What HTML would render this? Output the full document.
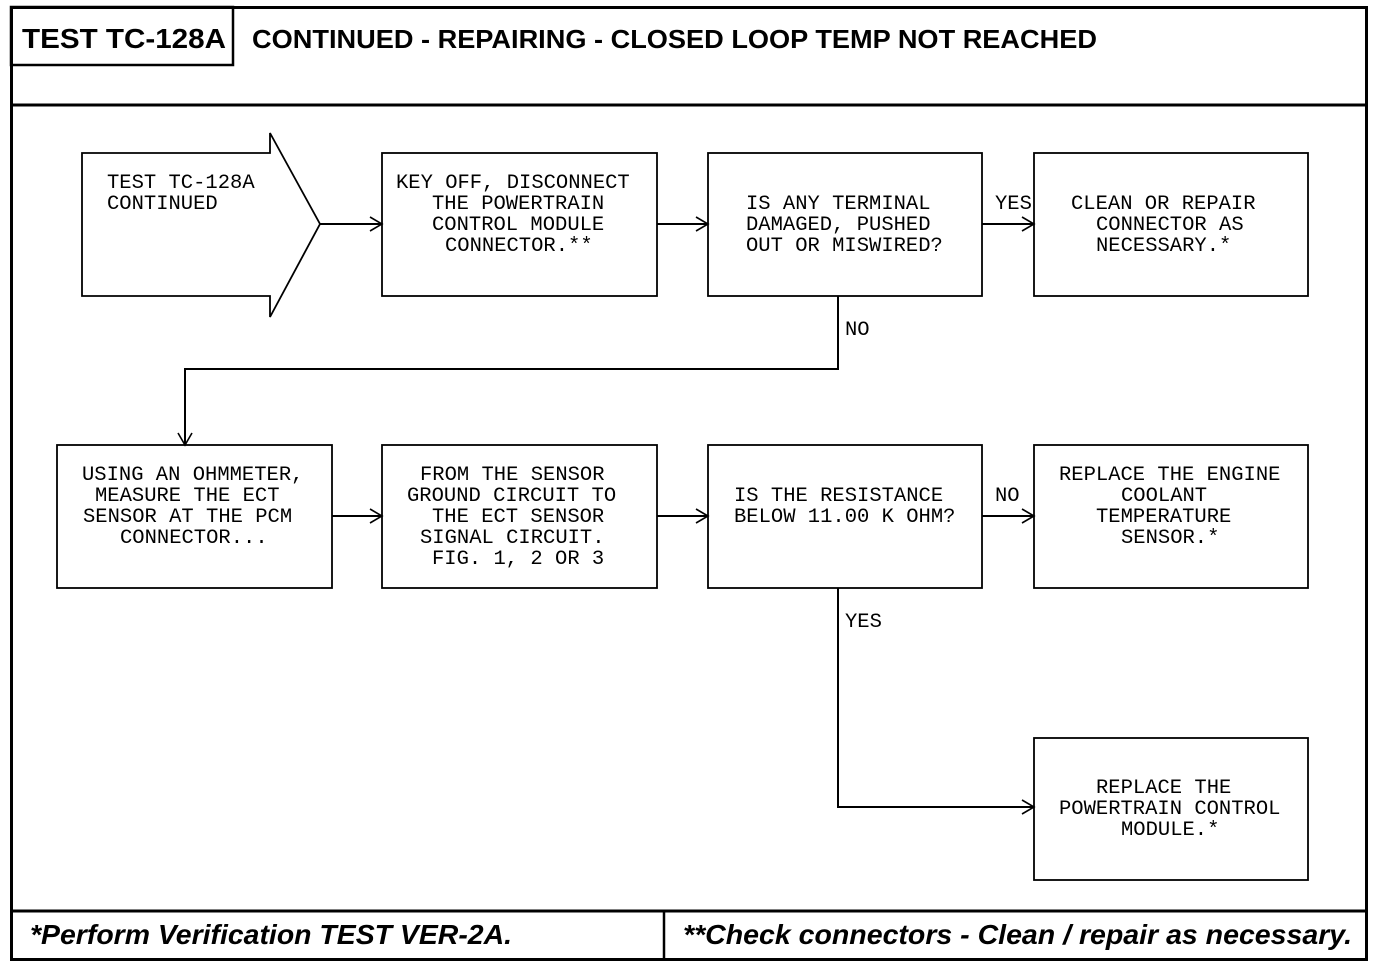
<!DOCTYPE html>
<html><head><meta charset="utf-8"><style>
html,body{margin:0;padding:0;background:#fff;}
svg{display:block;}
.m{font-family:"Liberation Mono",monospace;font-size:20.5px;fill:#000;}
.h{font-family:"Liberation Sans",sans-serif;font-weight:bold;fill:#000;}
</style></head><body>
<svg width="1392" height="970" viewBox="0 0 1392 970" xmlns="http://www.w3.org/2000/svg">
<g fill="none" stroke="#000">
<!-- outer frame -->
<rect x="11.5" y="7.5" width="1355" height="952" stroke-width="3"/>
<line x1="11" y1="105" x2="1367" y2="105" stroke-width="3"/>
<rect x="11" y="7" width="222" height="58" stroke-width="2.5"/>
<line x1="11" y1="911" x2="1367" y2="911" stroke-width="3"/>
<line x1="664" y1="911" x2="664" y2="960" stroke-width="2.5"/>
<!-- arrow shape -->
<polygon points="82,153 270,153 270,133 320,224 270,317 270,296 82,296" stroke-width="1.8"/>
<!-- boxes -->
<g stroke-width="1.8">
<rect x="382" y="153" width="275" height="143"/>
<rect x="708" y="153" width="274" height="143"/>
<rect x="1034" y="153" width="274" height="143"/>
<rect x="57" y="445" width="275" height="143"/>
<rect x="382" y="445" width="275" height="143"/>
<rect x="708" y="445" width="274" height="143"/>
<rect x="1034" y="445" width="274" height="143"/>
<rect x="1034" y="738" width="274" height="142"/>
</g>
<!-- connectors -->
<g stroke-width="2">
<line x1="320" y1="224" x2="382" y2="224"/>
<line x1="657" y1="224" x2="708" y2="224"/>
<line x1="982" y1="224" x2="1034" y2="224"/>
<polyline points="838,296 838,369 185,369 185,445"/>
<line x1="332" y1="516" x2="382" y2="516"/>
<line x1="657" y1="516" x2="708" y2="516"/>
<line x1="982" y1="516" x2="1034" y2="516"/>
<polyline points="838,588 838,807 1034,807"/>
</g>
<!-- arrowheads -->
<g stroke-width="1.6">
<polyline points="370,217 382,224 370,231"/>
<polyline points="696,217 708,224 696,231"/>
<polyline points="1022,217 1034,224 1022,231"/>
<polyline points="178,433 185,445 192,433"/>
<polyline points="370,509 382,516 370,523"/>
<polyline points="696,509 708,516 696,523"/>
<polyline points="1022,509 1034,516 1022,523"/>
<polyline points="1022,800 1034,807 1022,814"/>
</g>
</g>
<!-- header -->
<text class="h" x="22" y="48" font-size="28" textLength="204" lengthAdjust="spacingAndGlyphs">TEST TC-128A</text>
<text class="h" x="252" y="48" font-size="26" textLength="845" lengthAdjust="spacingAndGlyphs">CONTINUED - REPAIRING - CLOSED LOOP TEMP NOT REACHED</text>
<!-- footer -->
<text class="h" x="30" y="944" font-size="28" font-style="italic" textLength="482" lengthAdjust="spacingAndGlyphs">*Perform Verification TEST VER-2A.</text>
<text class="h" x="683" y="944" font-size="28" font-style="italic" textLength="669" lengthAdjust="spacingAndGlyphs">**Check connectors - Clean / repair as necessary.</text>
<!-- box text -->
<g class="m">
<text x="107" y="188">TEST TC-128A</text>
<text x="107" y="209">CONTINUED</text>

<text x="396" y="188">KEY OFF, DISCONNECT</text>
<text x="432" y="209">THE POWERTRAIN</text>
<text x="432" y="230">CONTROL MODULE</text>
<text x="445" y="251">CONNECTOR.**</text>

<text x="746" y="209">IS ANY TERMINAL</text>
<text x="746" y="230">DAMAGED, PUSHED</text>
<text x="746" y="251">OUT OR MISWIRED?</text>

<text x="995" y="209">YES</text>

<text x="1071" y="209">CLEAN OR REPAIR</text>
<text x="1096" y="230">CONNECTOR AS</text>
<text x="1096" y="251">NECESSARY.*</text>

<text x="845" y="335">NO</text>

<text x="82" y="480">USING AN OHMMETER,</text>
<text x="95" y="501">MEASURE THE ECT</text>
<text x="83" y="522">SENSOR AT THE PCM</text>
<text x="120" y="543">CONNECTOR...</text>

<text x="420" y="480">FROM THE SENSOR</text>
<text x="407" y="501">GROUND CIRCUIT TO</text>
<text x="432" y="522">THE ECT SENSOR</text>
<text x="420" y="543">SIGNAL CIRCUIT.</text>
<text x="432" y="564">FIG. 1, 2 OR 3</text>

<text x="734" y="501">IS THE RESISTANCE</text>
<text x="734" y="522">BELOW 11.00 K OHM?</text>

<text x="995" y="501">NO</text>

<text x="1059" y="480">REPLACE THE ENGINE</text>
<text x="1121" y="501">COOLANT</text>
<text x="1096" y="522">TEMPERATURE</text>
<text x="1121" y="543">SENSOR.*</text>

<text x="845" y="627">YES</text>

<text x="1096" y="793">REPLACE THE</text>
<text x="1059" y="814">POWERTRAIN CONTROL</text>
<text x="1121" y="835">MODULE.*</text>
</g>
</svg>
</body></html>
